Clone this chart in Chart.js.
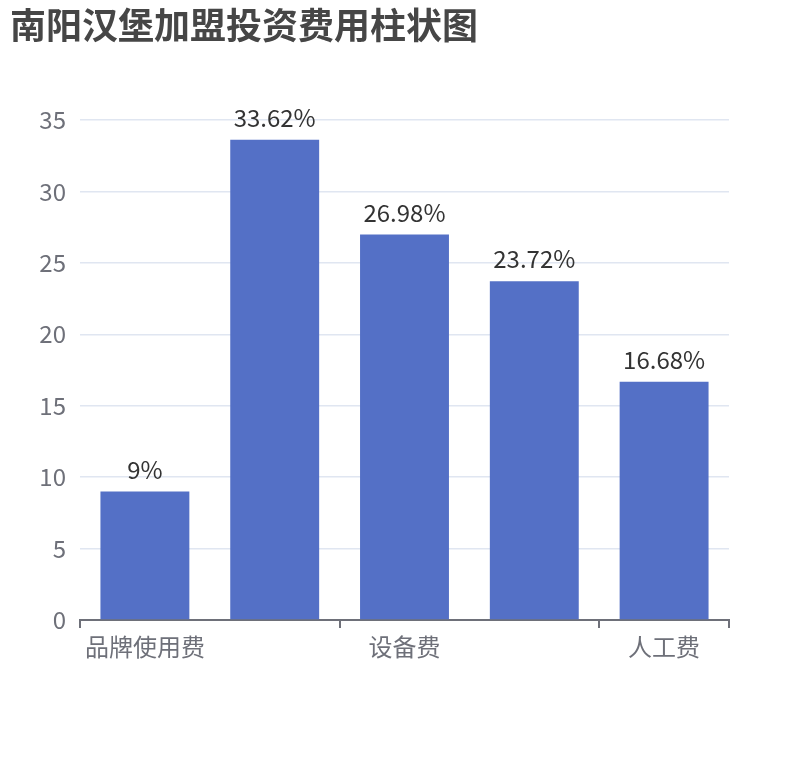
<!DOCTYPE html>
<html>
<head>
<meta charset="utf-8">
<script src="https://cdn.jsdelivr.net/npm/chart.js@4/dist/chart.umd.min.js"></script>
<style>
  html, body { margin: 0; padding: 0; background: #ffffff; }
  #wrap { width: 810px; height: 760px; }
</style>
</head>
<body>
<div id="wrap"><canvas id="cost-chart" width="810" height="760"></canvas></div>
<script>
// data
const categories = ['品牌使用费', '店面租金', '设备费', '装修费', '人工费'];
const costValues = [9, 33.62, 26.98, 23.72, 16.68];
const yTicks = [0, 5, 10, 15, 20, 25, 30, 35];
const titleText = '南阳汉堡加盟投资费用柱状图';

const fontName = '"Noto Sans CJK SC", "Noto Sans", sans-serif';

// value labels above each bar
const barLabels = {
  id: 'barLabels',
  afterDatasetsDraw(chart) {
    const ctx = chart.ctx;
    const meta = chart.getDatasetMeta(0);
    ctx.save();
    ctx.font = '24px ' + fontName;
    ctx.fillStyle = '#333333';
    ctx.textAlign = 'center';
    ctx.textBaseline = 'bottom';
    meta.data.forEach((bar, i) => {
      ctx.fillText(costValues[i] + '%', bar.x, bar.y - 10);
    });
    ctx.restore();
  }
};

const canvas = document.getElementById('cost-chart');
const ctx = canvas.getContext('2d');

new Chart(ctx, {
  type: 'bar',
  data: {
    labels: categories,
    datasets: [{
      data: costValues,
      backgroundColor: '#5470C6',
      barPercentage: 0.685,
      categoryPercentage: 1
    }]
  },
  options: {
    responsive: false,
    animation: false,
    layout: {
      padding: { left: 10, right: 81, top: 0, bottom: 0 }
    },
    plugins: {
      legend: { display: false },
      tooltip: { enabled: false },
      title: {
        display: true,
        text: titleText,
        align: 'start',
        color: '#464646',
        font: { family: fontName, size: 36, weight: 'bold' },
        padding: { top: 4, bottom: 72.8 }
      }
    },
    scales: {
      x: {
        afterFit: scale => { scale.height = 140; },
        border: { display: true, color: '#6E7079', width: 2 },
        grid: {
          offset: true,
          drawOnChartArea: false,
          drawTicks: true,
          tickLength: 8,
          lineWidth: 2,
          // only mark the edges of the labelled groups
          color: c => (c.index === undefined || c.index % 2 === 0) ? '#6E7079' : 'rgba(0,0,0,0)'
        },
        ticks: {
          autoSkip: false,
          maxRotation: 0,
          padding: 4,
          color: '#6E7079',
          font: { family: fontName, size: 24 },
          callback: (value, index) => index % 2 === 0 ? categories[index] : ''
        }
      },
      y: {
        min: 0,
        max: 35,
        afterFit: scale => { scale.width = 70; },
        afterBuildTicks: scale => { scale.ticks = yTicks.map(v => ({ value: v })); },
        border: { display: false },
        grid: {
          color: '#E0E6F1',
          lineWidth: 1.5,
          drawTicks: false
        },
        ticks: {
          padding: 14,
          color: '#6E7079',
          font: { family: fontName, size: 24 }
        }
      }
    }
  },
  plugins: [barLabels]
});
</script>
</body>
</html>
